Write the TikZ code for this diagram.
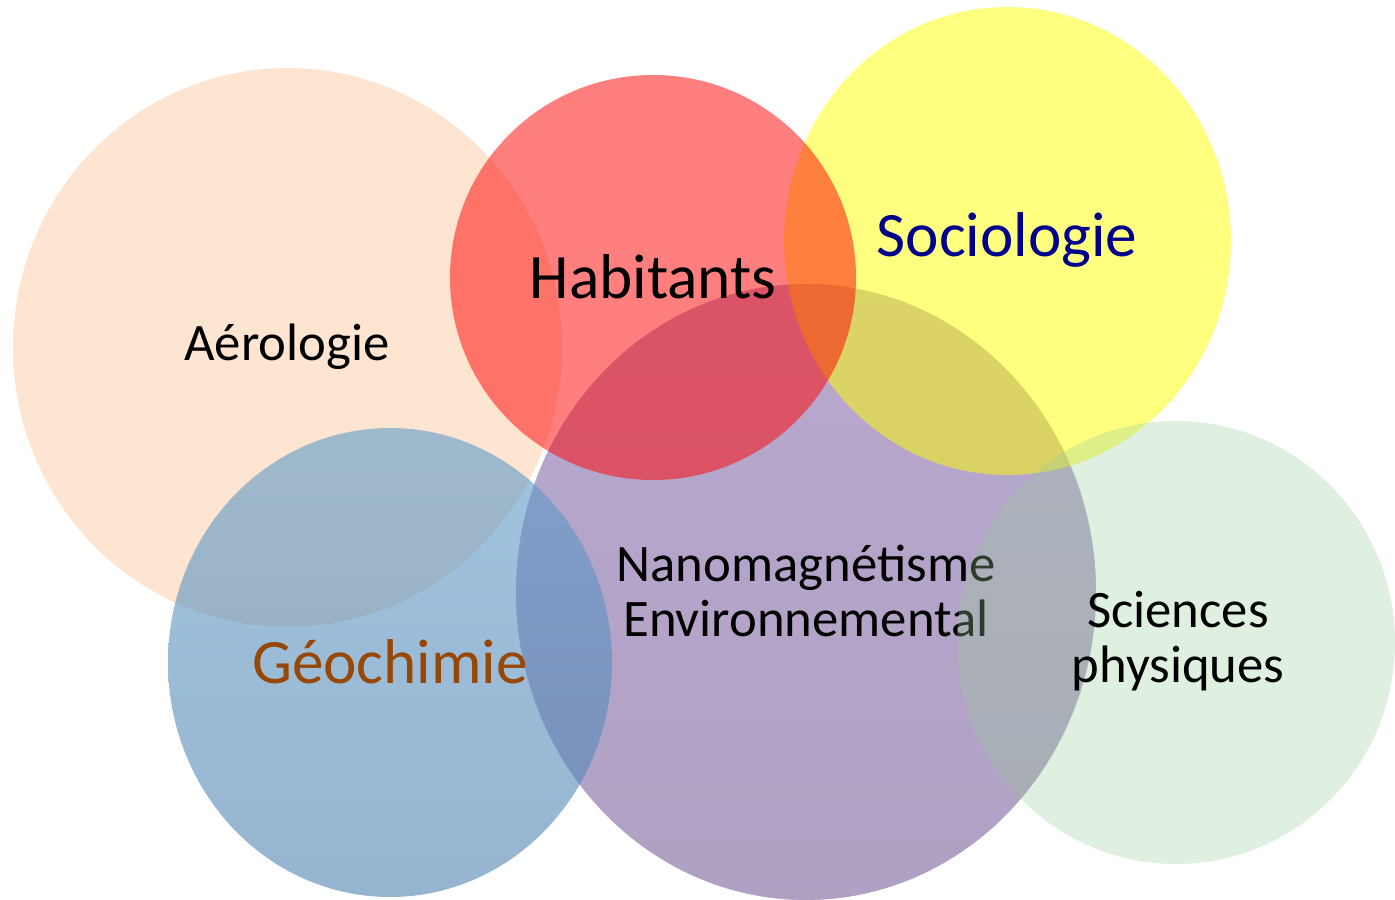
\documentclass[tikz,border=0pt]{standalone}
\usepackage{fontspec}
\setmainfont{Carlito}
\usepackage{tikz}
\usetikzlibrary{calc}

\definecolor{aeroorange}{HTML}{F79646}
\definecolor{habred}{HTML}{FF0000}
\definecolor{socyellow}{HTML}{FFFF00}
\definecolor{geotop}{HTML}{619DCB}
\definecolor{geobottom}{HTML}{5082AF}
\definecolor{nanotop}{HTML}{7E61A8}
\definecolor{nanobottom}{HTML}{6F5290}
\definecolor{physgreen}{HTML}{97CD97}
\definecolor{socblue}{HTML}{00008C}
\definecolor{geobrown}{HTML}{984806}

\tikzset{
	smalllbl/.style={font=\fontsize{15}{15.8}\selectfont, align=center, inner sep=0pt},
	biglbl/.style={font=\fontsize{18}{19}\selectfont, inner sep=0pt}
}

\begin{document}
\begin{tikzpicture}[x=0.1mm,y=-0.1mm]
	\useasboundingbox (0,0) rectangle (1395,900);
	
	%circles
	\fill[aeroorange, fill opacity=0.25] (287.5,347.5) ellipse [x radius=274.5, y radius=279.5];
	\shadedraw[top color=nanotop, bottom color=nanobottom, draw=white, line width=0.5pt, fill opacity=0.55] (806,592) ellipse [x radius=291, y radius=309];
	\shade[top color=geotop, bottom color=geobottom, fill opacity=0.6] (390,662.5) ellipse [x radius=222, y radius=234.5];
	\fill[socyellow, fill opacity=0.5] (1007.5,241) ellipse [x radius=223.5, y radius=234];
	\fill[habred, fill opacity=0.5] (653,277.5) ellipse [x radius=203, y radius=202.5];
	
	%label under the green circle
	\node[smalllbl] (nano) at (806,591) {Nanomagnétisme\\Environnemental};
	
	\fill[physgreen, fill opacity=0.3] (1176,642.5) ellipse [x radius=219, y radius=221.5];
	
	%labels
	\node[smalllbl] (aero) at (287,347) {Aérologie};
	\node[biglbl] (hab) at (653,277) {Habitants};
	\node[biglbl, text=socblue] (soc) at (1007,240) {Sociologie};
	\node[biglbl, text=geobrown] (geo) at (390,662) {Géochimie};
	\node[smalllbl] (phys) at (1178,641) {Sciences\\physiques};
	
	%\draw[help lines] (0,0) grid (1395,900);
\end{tikzpicture}
\end{document}
